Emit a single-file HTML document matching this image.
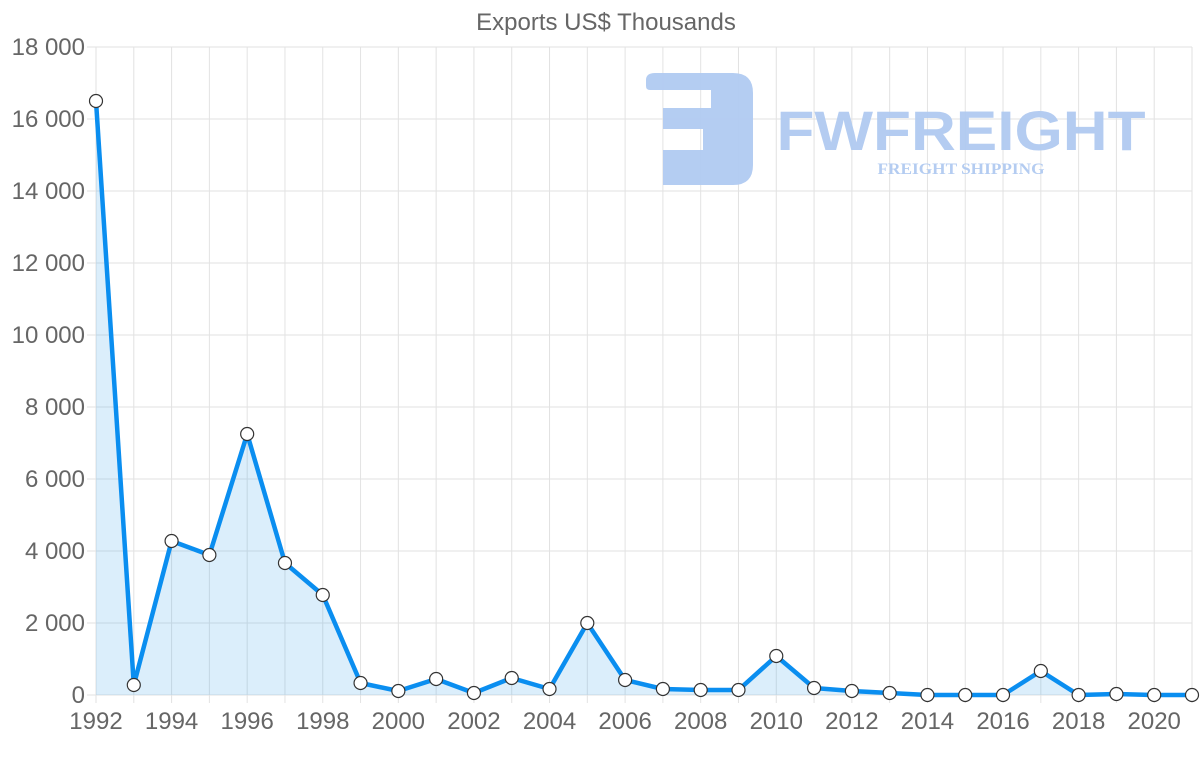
<!DOCTYPE html>
<html><head><meta charset="utf-8"><style>
html,body{margin:0;padding:0;background:#fff;}
svg{display:block;font-family:"Liberation Sans",sans-serif;}
</style></head><body>
<svg id="c" width="1200" height="763" viewBox="0 0 1200 763" xmlns="http://www.w3.org/2000/svg">
<rect width="1200" height="763" fill="#fff"/>
<text x="606" y="30" text-anchor="middle" font-size="24" fill="#666">Exports US$ Thousands</text>
<g id="grid" stroke="#e2e2e2" stroke-width="1"></g>
<g id="ylab" font-size="24" fill="#666" text-anchor="end"></g>
<g id="xlab" font-size="24" fill="#666" text-anchor="middle"></g>
<g opacity="0.95">
<path d="M646 80 Q646 73 655 73 H733 Q753 73 753 93 V165 Q753 185 733 185 H663 V150 H703 V129 H663 V108 H711 V90 H650 Q646 90 646 86 Z" fill="#b0caf1"/>
<text x="961" y="150" text-anchor="middle" font-size="56" font-weight="bold" fill="#b0caf1" textLength="369" lengthAdjust="spacingAndGlyphs">FWFREIGHT</text>
<text x="961" y="174" text-anchor="middle" font-family="Liberation Serif,serif" font-size="16" font-weight="bold" fill="#b0caf1" textLength="167" lengthAdjust="spacingAndGlyphs">FREIGHT SHIPPING</text>
</g>
<path id="area" fill="rgba(54,162,235,0.18)" stroke="none"/>
<path id="line" fill="none" stroke="#0a8ef0" stroke-width="4.5" stroke-linejoin="round"/>
<g id="pts" fill="#fff" stroke="#333" stroke-width="1.2"></g>
</svg>
<script>
var ys=[101,685,541,555,434,563,595,683,691,679,693,678,689,623,680,689,690,690,656,688,691,693,695,695,695,671,695,694,695,695];
var ns="http://www.w3.org/2000/svg";
function el(t,a,p){var e=document.createElementNS(ns,t);for(var k in a)e.setAttribute(k,a[k]);document.getElementById(p).appendChild(e);return e;}
for(var i=0;i<=9;i++){var y=695-72*i;el('line',{x1:87,x2:1192,y1:y,y2:y},'grid');
var t=el('text',{x:85,y:y+8},'ylab');t.textContent=i==0?'0':(2*i)+' 000';}
var d='',pts=[];
for(var i=0;i<30;i++){var x=96+(1192-96)/29*i;pts.push([x,ys[i]]);
el('line',{x1:x,x2:x,y1:47,y2:703},'grid');
if(i%2==0){var t=el('text',{x:x,y:729},'xlab');t.textContent=1992+i;}}
d='M'+pts.map(function(p){return p[0].toFixed(1)+' '+p[1]}).join(' L');
document.getElementById('line').setAttribute('d',d);
document.getElementById('area').setAttribute('d',d+' L1192 695 L96 695 Z');
pts.forEach(function(p){el('circle',{cx:p[0],cy:p[1],r:6.5},'pts');});
</script>
</body></html>
